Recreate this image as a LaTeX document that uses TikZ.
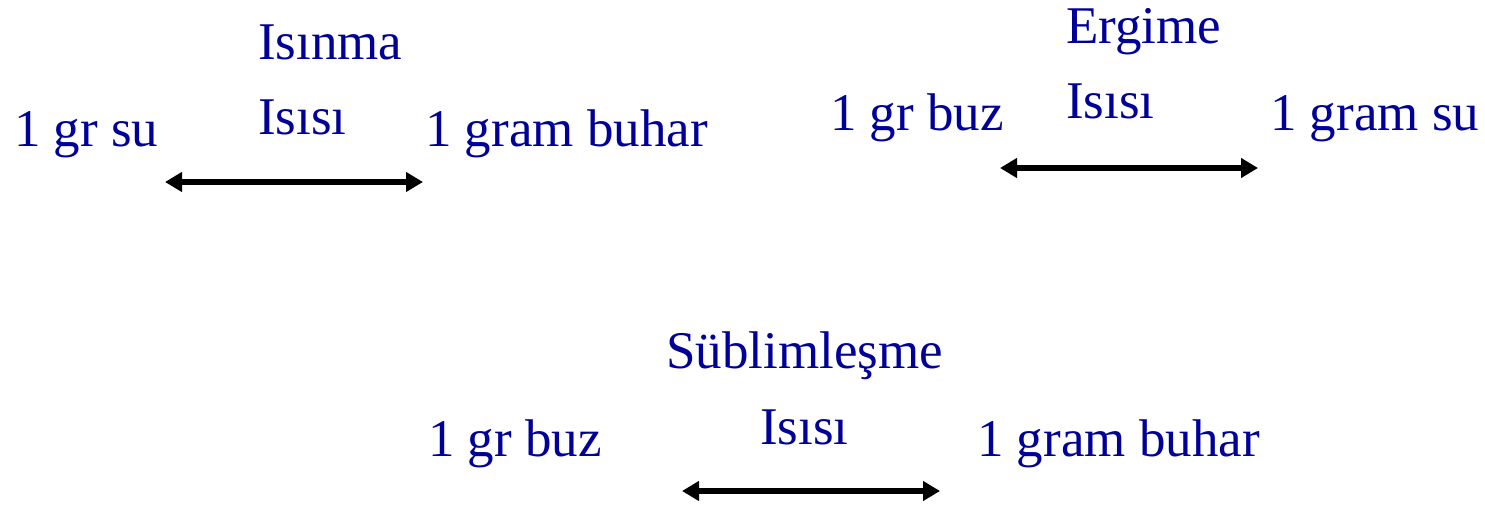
\documentclass[tikz,border=0pt]{standalone}
\usepackage{fontspec}
\setmainfont{Liberation Serif}
\usetikzlibrary{arrows.meta}
\definecolor{txtblue}{RGB}{0,0,153}
\tikzset{
  lbl/.style={anchor=base west, inner sep=0pt, text=txtblue, font=\fontsize{53}{60}\selectfont},
  dblarrow/.style={line width=5.5pt, {Triangle[length=17pt,width=19pt]}-{Triangle[length=17pt,width=19pt]}}
}
\begin{document}
\begin{tikzpicture}[x=1pt,y=-1pt]
\useasboundingbox (0,0) rectangle (1485,505);
% group 1
\node[lbl] (su1) at (14,147) {1 gr su};
\node[lbl] (isinma) at (258,60) {Isınma};
\node[lbl] (isisi1) at (258,135) {Isısı};
\node[lbl] (buhar1) at (425,147) {1 gram buhar};
\coordinate (a1l) at (165,182);
\coordinate (a1r) at (423,182);
\draw[dblarrow] (a1l) -- (a1r);
% group 2
\node[lbl] (buz2) at (830,131) {1 gr buz};
\node[lbl] (ergime) at (1066,44) {Ergime};
\node[lbl] (isisi2) at (1066,119) {Isısı};
\node[lbl] (su2) at (1270,131) {1 gram su};
\coordinate (a2l) at (1000,168);
\coordinate (a2r) at (1258,168);
\draw[dblarrow] (a2l) -- (a2r);
% group 3
\node[lbl] (buz3) at (428,456) {1 gr buz};
\node[lbl] (sub) at (666,368) {Süblimleşme};
\node[lbl] (isisi3) at (760,444) {Isısı};
\node[lbl] (buhar3) at (977,456) {1 gram buhar};
\coordinate (a3l) at (682,491);
\coordinate (a3r) at (940,491);
\draw[dblarrow] (a3l) -- (a3r);
\end{tikzpicture}
\end{document}
